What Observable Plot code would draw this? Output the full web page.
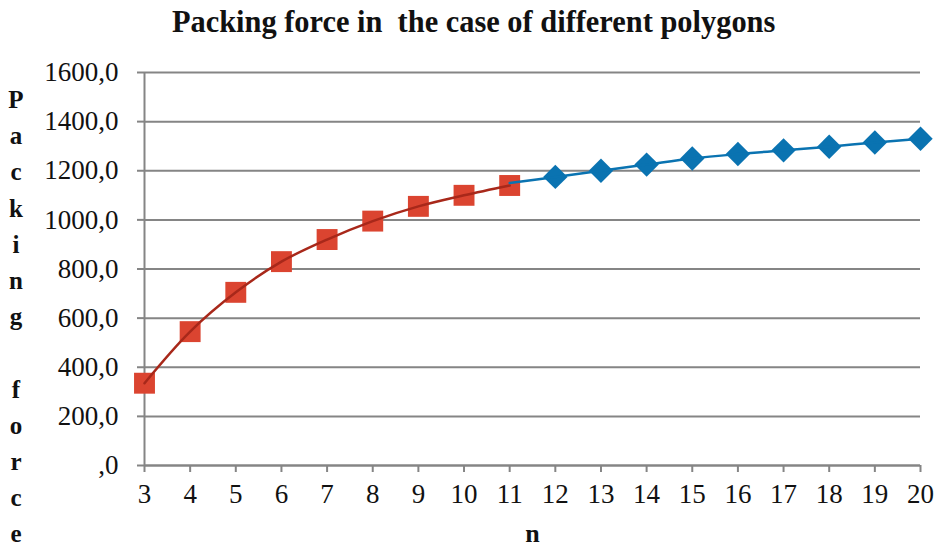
<!DOCTYPE html>
<html>
<head>
<meta charset="utf-8">
<script src="https://cdn.jsdelivr.net/npm/d3@7"></script>
<script src="https://cdn.jsdelivr.net/npm/@observablehq/plot@0.6"></script>
<style>
  html, body { margin: 0; padding: 0; background: #fff; }
  #wrap { position: relative; width: 947px; height: 547px; overflow: hidden; font-family: "Liberation Serif", "Times New Roman", serif; }
  #title { position: absolute; left: 0; top: 1px; width: 947px; text-align: center; font-weight: bold; font-size: 32px; line-height: 40px; color: #111; white-space: pre; }
  #title span { display: inline-block; transform: scaleX(0.95); transform-origin: center; }
  .yl { position: absolute; left: 4px; width: 24px; text-align: center; font-weight: bold; font-size: 25px; line-height: 20px; color: #111; }
  svg [aria-label="x-axis label"] text, svg [aria-label="x-axis label"] { font-weight: bold; font-size: 26px; }
</style>
</head>
<body>
<div id="wrap">
  <div id="title"><span>Packing force in  the case of different polygons</span></div>
</div>
<script>
// Data
const nSmall = [3, 4, 5, 6, 7, 8, 9, 10, 11];
const forceSmall = [335, 545, 705, 830, 920, 995, 1055, 1100, 1140];
const nLarge = [11, 12, 13, 14, 15, 16, 17, 18, 19, 20];
const forceLarge = [1150, 1175, 1200, 1225, 1250, 1268, 1283, 1298, 1315, 1330];
const xTicks = [3, 4, 5, 6, 7, 8, 9, 10, 11, 12, 13, 14, 15, 16, 17, 18, 19, 20];
const yTicks = [0, 200, 400, 600, 800, 1000, 1200, 1400, 1600];
const yLabelText = "Packing force";
const xLabelText = "n";

const small = nSmall.map((n, i) => ({n, f: forceSmall[i]}));
const large = nLarge.map((n, i) => ({n, f: forceLarge[i]}));
const largeMarkers = large.filter(d => d.n >= 12);

const fmtY = d => d === 0 ? ",0" : d.toFixed(1).replace(".", ",");
const gridColor = "#858585";

const chart = Plot.plot({
  width: 947,
  height: 547,
  marginLeft: 144,
  marginRight: 27,
  marginTop: 72,
  marginBottom: 82,
  style: { fontFamily: "'Liberation Serif', 'Times New Roman', serif", fontSize: "27px", color: "#111", background: "#fff" },
  x: { domain: [3, 20], ticks: xTicks },
  y: { domain: [0, 1600], ticks: yTicks },
  marks: [
    Plot.gridY(yTicks, { stroke: gridColor, strokeOpacity: 1, strokeWidth: 2 }),
    Plot.ruleX([3], { y1: 0, y2: 1600, stroke: gridColor, strokeWidth: 2 }),
    Plot.ruleY([0], { stroke: gridColor, strokeWidth: 2 }),
    Plot.axisY({ ticks: yTicks, tickFormat: fmtY, tickSize: 7, tickPadding: 19, stroke: gridColor, strokeWidth: 2, label: null }),
    Plot.axisX({ ticks: xTicks, tickFormat: d => String(d), tickSize: 7, tickPadding: 11, stroke: gridColor, strokeWidth: 2,
      label: xLabelText, labelAnchor: "center", labelArrow: "none", labelOffset: 76 }),
    Plot.dot(small, { x: "n", y: "f", symbol: "square", r: 11.8, fill: "#db4430", stroke: "none" }),
    Plot.line(small, { x: "n", y: "f", curve: "catmull-rom", stroke: "#a8281a", strokeWidth: 2.5 }),
    Plot.dot(largeMarkers, { x: "n", y: "f", symbol: "diamond2", r: 11, fill: "#0a73b1", stroke: "none" }),
    Plot.line(large, { x: "n", y: "f", curve: "catmull-rom", stroke: "#0a73b1", strokeWidth: 2.5 })
  ]
});
const wrap = document.getElementById("wrap");
wrap.prepend(chart);
chart.style.position = "absolute";
chart.style.left = "0";
chart.style.top = "0";
// stacked vertical y-axis label, one letter per line
yLabelText.split("").forEach((ch, i) => {
  if (ch === " ") return;
  const el = document.createElement("div");
  el.className = "yl";
  el.textContent = ch;
  el.style.top = (90 + i * 36.2) + "px";
  wrap.appendChild(el);
});
</script>
</body>
</html>
